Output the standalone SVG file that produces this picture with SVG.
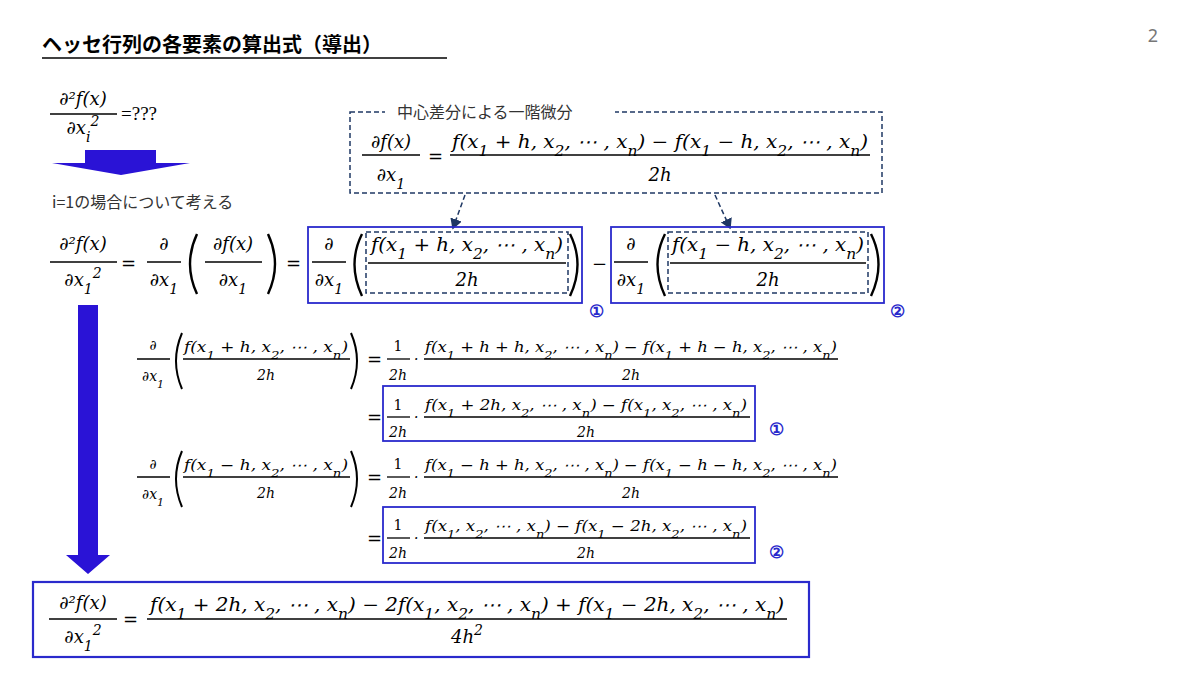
<svg xmlns="http://www.w3.org/2000/svg" width="1200" height="675" viewBox="0 0 1200 675">
<style>
.m{font-family:"DejaVu Serif","Liberation Serif",serif;font-style:italic;font-weight:normal;font-size:18px;fill:#000}
.ms{font-size:14px}
.t{font-size:11px}
.c{text-anchor:middle}
.j{font-family:"Noto Sans CJK JP",sans-serif;fill:#333}
.bar{stroke:#000;stroke-width:1.3}
.par{fill:none;stroke:#000;stroke-width:2.4}
.bb{fill:none;stroke:#2a2acc;stroke-width:1.8}
.db{fill:none;stroke:#1f3864;stroke-width:1.5;stroke-dasharray:5 3}
.num{font-family:"Noto Sans",sans-serif;font-size:17px;fill:#2a2acc;text-anchor:middle;font-weight:bold}
</style>
<defs>
<marker id="ah" markerWidth="8" markerHeight="8" refX="6" refY="4" orient="auto"><path d="M0,0 L7,4 L0,8 z" fill="#1f3864"/></marker>
</defs>
<rect width="1200" height="675" fill="#fff"/>
<text x="42" y="52" class="j" style="font-size:20px;font-weight:bold;fill:#000">ヘッセ行列の各要素の算出式（導出）</text>
<line x1="42" y1="58" x2="447" y2="58" stroke="#000" stroke-width="1.5"/>
<text x="1153" y="42" style="font-family:'Noto Sans',sans-serif;font-size:18px;fill:#777" text-anchor="middle">2</text>

<g id="q">
<text x="83" y="105" class="m c">∂²f(x)</text><line x1="50" y1="114" x2="117" y2="114" class="bar"/>
<text x="83" y="134" class="m c">∂x<tspan class="ms" baseline-shift="sub">i</tspan><tspan class="ms" baseline-shift="super">2</tspan></text>
<text x="121" y="120" style="font-family:'Liberation Serif',serif;font-size:19px">=???</text>
</g>
<g id="arrow1"><path d="M85,150 H156 V163 H190 L121,175 L52,163 H85 Z" fill="#2a13d6"/></g>
<text x="52" y="208" class="j" style="font-size:16px">i=1の場合について考える</text>

<g id="center">
<rect x="350" y="112" width="532" height="81" class="db"/>
<rect x="385" y="104" width="230" height="16" fill="#fff"/>
<text x="397" y="118" class="j" style="font-size:16px">中心差分による一階微分</text>
<text x="391" y="148" class="m c">∂f(x)</text><line x1="362" y1="155" x2="420" y2="155" class="bar"/>
<text x="391" y="181" class="m c">∂x<tspan class="ms" baseline-shift="sub">1</tspan></text>
<text x="428" y="163" class="m" style="font-style:normal">=</text>
<text x="660" y="148" class="m c" textLength="416" lengthAdjust="spacingAndGlyphs">f(x<tspan class="ms" baseline-shift="sub">1</tspan> + h, x<tspan class="ms" baseline-shift="sub">2</tspan>, ⋯ , x<tspan class="ms" baseline-shift="sub">n</tspan>) − f(x<tspan class="ms" baseline-shift="sub">1</tspan> − h, x<tspan class="ms" baseline-shift="sub">2</tspan>, ⋯ , x<tspan class="ms" baseline-shift="sub">n</tspan>)</text>
<line x1="450" y1="155" x2="870" y2="155" class="bar"/>
<text x="660" y="181" class="m c">2h</text>
</g>

<g id="connectors">
<line x1="465" y1="195" x2="453" y2="228" class="db" marker-end="url(#ah)"/>
<line x1="715" y1="195" x2="730" y2="228" class="db" marker-end="url(#ah)"/>
</g>

<g id="row1">
<text x="83" y="250" class="m c">∂²f(x)</text><line x1="50" y1="262" x2="117" y2="262" class="bar"/>
<text x="83" y="286" class="m c">∂x<tspan class="ms" baseline-shift="sub">1</tspan><tspan class="ms" baseline-shift="super">2</tspan></text>
<text x="121" y="270" class="m" style="font-style:normal">=</text>
<text x="164" y="250" class="m c">∂</text><line x1="147" y1="262" x2="181" y2="262" class="bar"/>
<text x="164" y="286" class="m c">∂x<tspan class="ms" baseline-shift="sub">1</tspan></text>
<path d="M197,234 Q183,264 197,294" class="par"/>
<text x="233" y="250" class="m c">∂f(x)</text><line x1="205" y1="262" x2="262" y2="262" class="bar"/>
<text x="233" y="286" class="m c">∂x<tspan class="ms" baseline-shift="sub">1</tspan></text>
<path d="M268,234 Q282,264 268,294" class="par"/>
<text x="286" y="270" class="m" style="font-style:normal">=</text>
</g>
<g id="box1">
<rect x="308" y="227" width="274" height="76" class="bb"/>
<text x="329" y="250" class="m c">∂</text><line x1="312" y1="262" x2="346" y2="262" class="bar"/>
<text x="329" y="286" class="m c">∂x<tspan class="ms" baseline-shift="sub">1</tspan></text>
<path d="M362,234 Q347,264 362,296" class="par"/>
<rect x="366" y="232" width="202" height="61" class="db"/>
<text x="467" y="251" class="m c" textLength="192" lengthAdjust="spacingAndGlyphs">f(x<tspan class="ms" baseline-shift="sub">1</tspan> + h, x<tspan class="ms" baseline-shift="sub">2</tspan>, ⋯ , x<tspan class="ms" baseline-shift="sub">n</tspan>)</text>
<line x1="368" y1="263" x2="566" y2="263" class="bar"/>
<text x="467" y="286" class="m c">2h</text>
<path d="M570,234 Q585,264 570,296" class="par"/>
</g>
<text x="592" y="270" class="m" style="font-style:normal">−</text>
<g id="box2">
<rect x="611" y="227" width="273" height="76" class="bb"/>
<text x="631" y="250" class="m c">∂</text><line x1="614" y1="262" x2="648" y2="262" class="bar"/>
<text x="631" y="286" class="m c">∂x<tspan class="ms" baseline-shift="sub">1</tspan></text>
<path d="M665,234 Q650,264 665,296" class="par"/>
<rect x="668" y="232" width="200" height="61" class="db"/>
<text x="768" y="251" class="m c" textLength="192" lengthAdjust="spacingAndGlyphs">f(x<tspan class="ms" baseline-shift="sub">1</tspan> − h, x<tspan class="ms" baseline-shift="sub">2</tspan>, ⋯ , x<tspan class="ms" baseline-shift="sub">n</tspan>)</text>
<line x1="670" y1="263" x2="866" y2="263" class="bar"/>
<text x="768" y="286" class="m c">2h</text>
<path d="M871,234 Q886,264 871,296" class="par"/>
</g>
<text x="596" y="317" class="num">①</text>
<text x="897" y="317" class="num">②</text>

<g id="arrow2"><path d="M78,305 H98 V555 H110 L88,574 L66,555 H78 Z" fill="#2a13d6"/></g>

<g id="rowA">
<text x="153" y="350" class="m c ms">∂</text><line x1="137" y1="359" x2="170" y2="359" class="bar"/>
<text x="153" y="381" class="m c ms">∂x<tspan class="t" baseline-shift="sub">1</tspan></text>
<path d="M182,333 Q170,361 182,389" class="par" style="stroke-width:2"/>
<text x="266" y="352" class="m c ms" textLength="164" lengthAdjust="spacingAndGlyphs">f(x<tspan class="t" baseline-shift="sub">1</tspan> + h, x<tspan class="t" baseline-shift="sub">2</tspan>, ⋯ , x<tspan class="t" baseline-shift="sub">n</tspan>)</text>
<line x1="183" y1="359" x2="350" y2="359" class="bar"/>
<text x="266" y="380" class="m c ms">2h</text>
<path d="M351,333 Q363,361 351,389" class="par" style="stroke-width:2"/>
<text x="367" y="366" class="m" style="font-style:normal">=</text>
<text x="398" y="351" class="m c ms" style="font-style:normal">1</text><line x1="387" y1="359" x2="410" y2="359" class="bar"/><text x="398" y="380" class="m c ms">2h</text>
<text x="414" y="364" class="m ms">·</text>
<text x="631" y="352" class="m c ms" textLength="412" lengthAdjust="spacingAndGlyphs">f(x<tspan class="t" baseline-shift="sub">1</tspan> + h + h, x<tspan class="t" baseline-shift="sub">2</tspan>, ⋯ , x<tspan class="t" baseline-shift="sub">n</tspan>) − f(x<tspan class="t" baseline-shift="sub">1</tspan> + h − h, x<tspan class="t" baseline-shift="sub">2</tspan>, ⋯ , x<tspan class="t" baseline-shift="sub">n</tspan>)</text>
<line x1="424" y1="359" x2="838" y2="359" class="bar"/>
<text x="631" y="380" class="m c ms">2h</text>
</g>
<g id="rowB">
<rect x="383" y="386" width="372" height="55" class="bb"/>
<text x="367" y="424" class="m" style="font-style:normal">=</text>
<text x="398" y="410" class="m c ms" style="font-style:normal">1</text><line x1="387" y1="417" x2="410" y2="417" class="bar"/><text x="398" y="437" class="m c ms">2h</text>
<text x="414" y="422" class="m ms">·</text>
<text x="586" y="410" class="m c ms" textLength="322" lengthAdjust="spacingAndGlyphs">f(x<tspan class="t" baseline-shift="sub">1</tspan> + 2h, x<tspan class="t" baseline-shift="sub">2</tspan>, ⋯ , x<tspan class="t" baseline-shift="sub">n</tspan>) − f(x<tspan class="t" baseline-shift="sub">1</tspan>, x<tspan class="t" baseline-shift="sub">2</tspan>, ⋯ , x<tspan class="t" baseline-shift="sub">n</tspan>)</text>
<line x1="424" y1="417" x2="750" y2="417" class="bar"/>
<text x="586" y="437" class="m c ms">2h</text>
</g>
<text x="776" y="435" class="num">①</text>

<g id="rowC">
<text x="153" y="469" class="m c ms">∂</text><line x1="137" y1="477" x2="170" y2="477" class="bar"/>
<text x="153" y="499" class="m c ms">∂x<tspan class="t" baseline-shift="sub">1</tspan></text>
<path d="M182,451 Q170,479 182,507" class="par" style="stroke-width:2"/>
<text x="266" y="470" class="m c ms" textLength="164" lengthAdjust="spacingAndGlyphs">f(x<tspan class="t" baseline-shift="sub">1</tspan> − h, x<tspan class="t" baseline-shift="sub">2</tspan>, ⋯ , x<tspan class="t" baseline-shift="sub">n</tspan>)</text>
<line x1="183" y1="477" x2="350" y2="477" class="bar"/>
<text x="266" y="498" class="m c ms">2h</text>
<path d="M351,451 Q363,479 351,507" class="par" style="stroke-width:2"/>
<text x="367" y="484" class="m" style="font-style:normal">=</text>
<text x="398" y="469" class="m c ms" style="font-style:normal">1</text><line x1="387" y1="477" x2="410" y2="477" class="bar"/><text x="398" y="498" class="m c ms">2h</text>
<text x="414" y="482" class="m ms">·</text>
<text x="631" y="470" class="m c ms" textLength="412" lengthAdjust="spacingAndGlyphs">f(x<tspan class="t" baseline-shift="sub">1</tspan> − h + h, x<tspan class="t" baseline-shift="sub">2</tspan>, ⋯ , x<tspan class="t" baseline-shift="sub">n</tspan>) − f(x<tspan class="t" baseline-shift="sub">1</tspan> − h − h, x<tspan class="t" baseline-shift="sub">2</tspan>, ⋯ , x<tspan class="t" baseline-shift="sub">n</tspan>)</text>
<line x1="424" y1="477" x2="838" y2="477" class="bar"/>
<text x="631" y="498" class="m c ms">2h</text>
</g>
<g id="rowD">
<rect x="383" y="507" width="372" height="56" class="bb"/>
<text x="367" y="545" class="m" style="font-style:normal">=</text>
<text x="398" y="530" class="m c ms" style="font-style:normal">1</text><line x1="387" y1="538" x2="410" y2="538" class="bar"/><text x="398" y="558" class="m c ms">2h</text>
<text x="414" y="543" class="m ms">·</text>
<text x="586" y="531" class="m c ms" textLength="322" lengthAdjust="spacingAndGlyphs">f(x<tspan class="t" baseline-shift="sub">1</tspan>, x<tspan class="t" baseline-shift="sub">2</tspan>, ⋯ , x<tspan class="t" baseline-shift="sub">n</tspan>) − f(x<tspan class="t" baseline-shift="sub">1</tspan> − 2h, x<tspan class="t" baseline-shift="sub">2</tspan>, ⋯ , x<tspan class="t" baseline-shift="sub">n</tspan>)</text>
<line x1="424" y1="538" x2="750" y2="538" class="bar"/>
<text x="586" y="558" class="m c ms">2h</text>
</g>
<text x="776" y="558" class="num">②</text>

<g id="final">
<rect x="33" y="582" width="776" height="75" class="bb" style="stroke-width:2.2"/>
<text x="83" y="609" class="m c">∂²f(x)</text><line x1="49" y1="619" x2="117" y2="619" class="bar"/>
<text x="83" y="643" class="m c">∂x<tspan class="ms" baseline-shift="sub">1</tspan><tspan class="ms" baseline-shift="super">2</tspan></text>
<text x="123" y="626" class="m" style="font-style:normal">=</text>
<text x="467" y="611" class="m c" textLength="634" lengthAdjust="spacingAndGlyphs">f(x<tspan class="ms" baseline-shift="sub">1</tspan> + 2h, x<tspan class="ms" baseline-shift="sub">2</tspan>, ⋯ , x<tspan class="ms" baseline-shift="sub">n</tspan>) − 2f(x<tspan class="ms" baseline-shift="sub">1</tspan>, x<tspan class="ms" baseline-shift="sub">2</tspan>, ⋯ , x<tspan class="ms" baseline-shift="sub">n</tspan>) + f(x<tspan class="ms" baseline-shift="sub">1</tspan> − 2h, x<tspan class="ms" baseline-shift="sub">2</tspan>, ⋯ , x<tspan class="ms" baseline-shift="sub">n</tspan>)</text>
<line x1="147" y1="619" x2="787" y2="619" class="bar"/>
<text x="467" y="643" class="m c">4h<tspan class="ms" baseline-shift="super">2</tspan></text>
</g>
</svg>
